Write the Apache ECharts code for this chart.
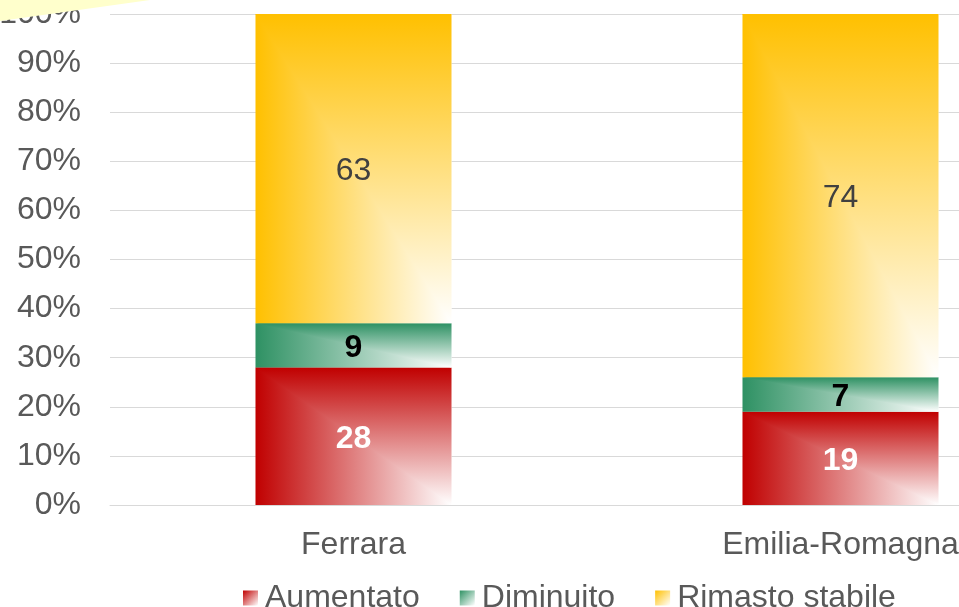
<!DOCTYPE html>
<html>
<head>
<meta charset="utf-8">
<title>Aumentato / Diminuito / Rimasto stabile</title>
<script src="https://cdn.jsdelivr.net/npm/echarts@6/dist/echarts.min.js"></script>
<style>
	* { margin: 0; padding: 0 }
	html, body { width: 959px; height: 607px; overflow: hidden; background: #fff; }
	/* the plot runs past the right edge of the picture, so the chart is wider than the window */
	#main { width: 1200px; height: 607px; }
</style>
</head>
<body>
<div id="main"></div>
<script>
var categories = ['Ferrara', 'Emilia-Romagna'];
var seriesNames = ['Aumentato', 'Diminuito', 'Rimasto stabile'];
var aumentato = [28, 19];
var diminuito = [9, 7];
var stabile = [63, 74];
var yMin = 0, yMax = 100, yStep = 10;

var colors = ['#C00000', '#2E9163', '#FFC000'];
var labelColors = ['#FFFFFF', '#000000', '#404040'];
var labelWeights = ['bold', 'bold', 'normal'];
var font = '"Liberation Sans", Arial, sans-serif';

function grad(color, x2, y2) {
	return new echarts.graphic.LinearGradient(0, 0, x2, y2, [
		{ offset: 0, color: color },
		{ offset: 1, color: '#FFFFFF' }
	]);
}

// stacked pieces: [category, base, top, value]
var values = [aumentato, diminuito, stabile];
var stacked = values.map(function (arr, k) {
	return arr.map(function (v, i) {
		var base = 0;
		for (var j = 0; j < k; j++) base += values[j][i];
		return [i, base, base + v, v];
	});
});

// gradient "from top-left corner": left part horizontal, upper-right triangle vertical
function renderBar(k) {
	return function (params, api) {
		var bottom = api.coord([api.value(0), api.value(1)]);
		var top = api.coord([api.value(0), api.value(2)]);
		var w = api.size([1, 0])[0] * 0.4025;
		var x0 = bottom[0] - w / 2, x1 = bottom[0] + w / 2;
		var y0 = top[1], y1 = bottom[1];
		return {
			type: 'group',
			children: [
				{
					type: 'rect',
					shape: { x: x0, y: y0, width: w, height: y1 - y0 },
					style: { fill: grad(colors[k], 1, 0) }
				},
				{
					type: 'polygon',
					shape: { points: [[x0, y0], [x1, y0], [x1, y1]] },
					style: { fill: grad(colors[k], 0, 1) }
				},
				{
					type: 'text',
					x: bottom[0],
					y: (y0 + y1) / 2 + 3,
					style: {
						text: String(api.value(3)),
						fill: labelColors[k],
						fontSize: 32,
						fontWeight: labelWeights[k],
						fontFamily: font,
						align: 'center',
						verticalAlign: 'middle'
					}
				}
			]
		};
	};
}

var chart = echarts.init(document.getElementById('main'));

chart.setOption({
	animation: false,
	backgroundColor: '#FFFFFF',
	grid: { left: 110, right: 116, top: 14, bottom: 102, containLabel: false, outerBoundsMode: 'none' },
	legend: {
		left: 243,
		top: 582,
		padding: 0,
		icon: 'rect',
		itemWidth: 15,
		itemHeight: 15,
		itemGap: 40,
		formatter: function (name) { return '{t|' + name + '}'; },
		textStyle: {
			fontSize: 32, color: '#595959', fontFamily: font,
			rich: { t: { fontSize: 32, color: '#595959', fontFamily: font, padding: [0, 0, 0, 2] } }
		},
		data: seriesNames
	},
	xAxis: {
		type: 'category',
		data: categories,
		axisTick: { show: false },
		axisLine: { lineStyle: { color: '#D9D9D9' } },
		axisLabel: { fontSize: 32, color: '#595959', fontFamily: font, margin: 24 }
	},
	yAxis: {
		type: 'value',
		min: yMin,
		max: yMax,
		interval: yStep,
		axisLine: { show: false },
		axisTick: { show: false },
		axisLabel: { formatter: '{value}%', fontSize: 32, color: '#595959', fontFamily: font, margin: 29 },
		splitLine: { lineStyle: { color: '#D9D9D9', width: 1 } }
	},
	graphic: [{
		type: 'polygon',
		z: 100,
		shape: { points: [[0, 0], [150, 0], [0, 21]] },
		style: { fill: '#FFFFCC' }
	}],
	series: seriesNames.map(function (name, k) {
		return {
			name: name,
			type: 'custom',
			renderItem: renderBar(k),
			itemStyle: { color: grad(colors[k], 1, 1) },
			encode: { x: 0, y: [1, 2] },
			data: stacked[k]
		};
	})
});
</script>
</body>
</html>
